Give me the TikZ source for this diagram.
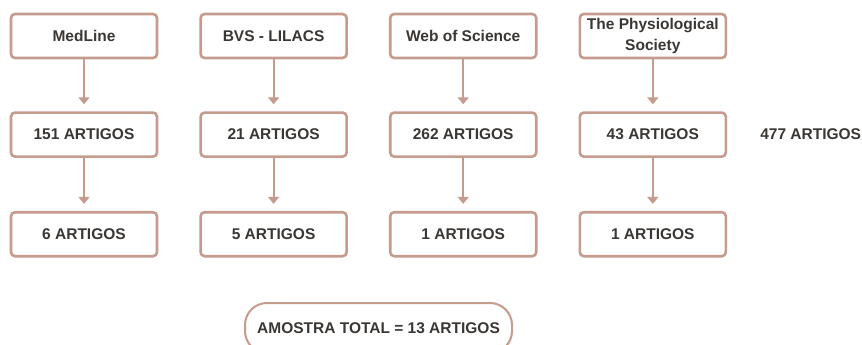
\documentclass[tikz,border=0pt]{standalone}
\usepackage{fontspec}
\setmainfont{Liberation Sans}
\usepackage{tikz}
\usetikzlibrary{arrows.meta,positioning}
\definecolor{rosa}{HTML}{C49B8D}
\definecolor{texto}{HTML}{3A3633}
\tikzset{
  box/.style={draw=rosa, line width=2.6pt, rounded corners=4pt, minimum width=146pt, minimum height=44pt, align=center, inner sep=2pt, text=texto, font=\fontsize{15.5}{21.5}\selectfont\bfseries},
  totalbox/.style={draw=rosa, line width=2pt, rounded corners=22pt, minimum width=267pt, minimum height=50pt, text=texto, font=\fontsize{15.5}{19}\selectfont\bfseries},
  plain/.style={text=texto, inner sep=0pt, font=\fontsize{15.5}{19}\selectfont\bfseries},
  arrow/.style={-{Triangle[length=7pt,width=11pt]}, draw=rosa, line width=2.2pt, shorten >=7pt}
}
\begin{document}
\begin{tikzpicture}[x=1pt, y=1pt, node distance=41pt]
\useasboundingbox (0,0) rectangle (862,-345);
\node[box] (medline) at (84,-36) {MedLine};
\node[box, right=of medline] (bvs) {BVS - LILACS};
\node[box, right=of bvs] (wos) {Web of Science};
\node[box, right=of wos] (physio) {The Physiological\\Society};
\node[box, below=52pt of medline] (a151) {151 ARTIGOS};
\node[box, below=52pt of bvs] (a21) {21 ARTIGOS};
\node[box, below=52pt of wos] (a262) {262 ARTIGOS};
\node[box, below=52pt of physio] (a43) {43 ARTIGOS};
\node[plain, right=33pt of a43] (soma) {477 ARTIGOS};
\node[box, below=53pt of a151] (b6) {6 ARTIGOS};
\node[box, below=53pt of a21] (b5) {5 ARTIGOS};
\node[box, below=53pt of a262] (b1) {1 ARTIGOS};
\node[box, below=53pt of a43] (c1) {1 ARTIGOS};
\node[totalbox] (total) at (378.5,-328) {AMOSTRA TOTAL = 13 ARTIGOS};
\draw[arrow] (medline) -- (a151);
\draw[arrow] (bvs) -- (a21);
\draw[arrow] (wos) -- (a262);
\draw[arrow] (physio) -- (a43);
\draw[arrow] (a151) -- (b6);
\draw[arrow] (a21) -- (b5);
\draw[arrow] (a262) -- (b1);
\draw[arrow] (a43) -- (c1);
\end{tikzpicture}
\end{document}
